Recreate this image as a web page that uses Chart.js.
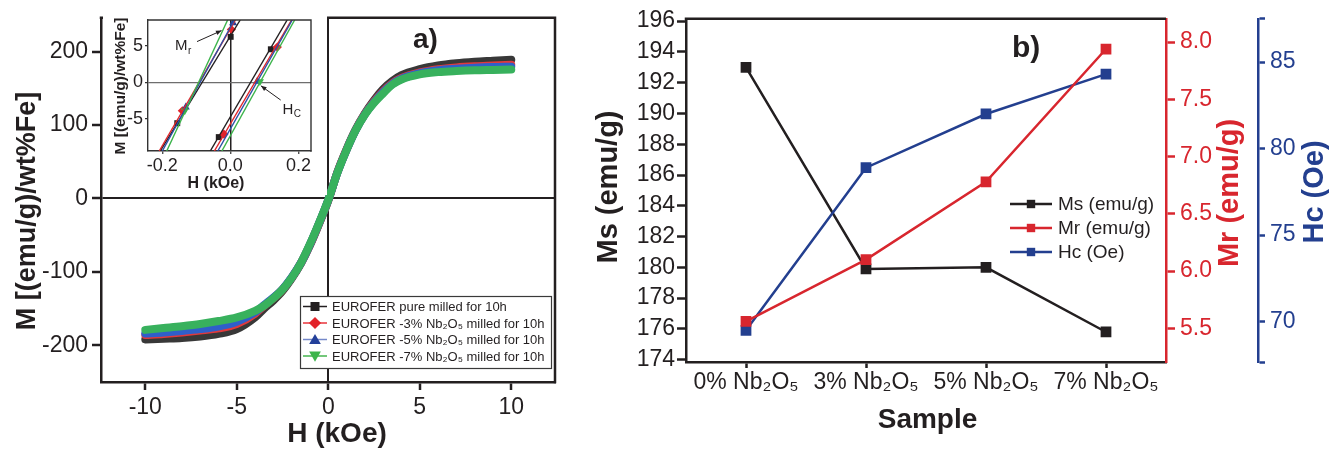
<!DOCTYPE html>
<html>
<head>
<meta charset="utf-8">
<script src="https://cdn.jsdelivr.net/npm/chart.js"></script>
<style>
  body { margin: 0; background: #fff; }
  #wrap { position: relative; width: 1341px; height: 450px; overflow: hidden; }
  canvas { position: absolute; top: 0; }
</style>
</head>
<body>
<div id="wrap">
  <canvas id="mh" width="570" height="450" style="left:0"></canvas>
  <canvas id="inset" width="224" height="195" style="left:103px"></canvas>
  <canvas id="props" width="761" height="450" style="left:580px"></canvas>
</div>
<script>
// ---- a) M(H) loops ----
const H_KOE = [-10, -9, -8, -7, -6, -5, -4, -3.5, -3, -2.5, -2, -1.5, -1, -0.5, 0,
               0.5, 1, 1.5, 2, 2.5, 3, 3.5, 4, 5, 6, 7, 8, 9, 10];
const M_PURE = [-192, -191, -190, -188, -184.5, -178, -162, -150, -139, -126, -109, -89, -64, -34.5, -3,
                36, 67, 94, 116, 134, 149, 160, 168, 176, 181, 184, 186, 187.5, 189];
const M_NB3 = [-186, -184.5, -182.5, -180, -177, -171, -157, -146, -136, -124, -108, -88, -63, -34, -2.5,
               35.5, 66.5, 93.5, 115, 132, 146, 157, 164, 171.5, 176, 178.5, 180, 181, 182];
const M_NB5 = [-184, -182.5, -180.5, -178, -174.5, -168, -155, -145, -135, -123.5, -107.5, -88, -62.5, -33.5, -2,
               35, 66, 93, 114.5, 131, 145, 156, 163, 170.5, 174.5, 176.5, 178, 179, 179.5];
const M_NB7 = [-179, -176.5, -174, -171, -167, -162, -153, -146, -136, -124, -108, -88, -62, -33, -2,
               35, 66, 93, 114, 130, 143, 155, 162, 169, 172, 173.5, 174.5, 175, 175.5];
const H_TICKS = [-10, -5, 0, 5, 10];
const M_TICKS = [-200, -100, 0, 100, 200];

// inset: both branches near the origin, [H (kOe), M] where they leave the frame
const IN_PURE_DOWN = [[-0.206, -9.4], [0.029, 8.5]];
const IN_PURE_UP   = [[-0.059, -9.4], [0.167, 8.5]];
const IN_NB3_DOWN  = [[-0.209, -9.4], [0.015, 8.5]];
const IN_NB3_UP    = [[-0.047, -9.4], [0.180, 8.5]];
const IN_NB5_DOWN  = [[-0.200, -9.4], [0.012, 8.5]];
const IN_NB5_UP    = [[-0.037, -9.4], [0.182, 8.5]];
const IN_NB7_DOWN  = [[-0.187, -9.4], [-0.008, 8.5]];
const IN_NB7_UP    = [[-0.025, -9.4], [0.189, 8.5]];
// measured points shown with markers in the inset
const MK_PURE = [[-0.156, -5.6], [0.001, 6.2], [-0.034, -7.5], [0.119, 4.5]];
const MK_NB3  = [[-0.141, -3.9], [0.003, 7.2], [-0.019, -7.1], [0.138, 4.8]];
const MK_NB5  = [[-0.131, -3.4], [0.008, 8.1], [0.079, 0.1]];
const MK_NB7  = [[-0.134, -3.9], [0.087, 0.1]];
const IN_H_TICKS = [-0.2, 0, 0.2];
const IN_M_TICKS = [-5, 0, 5];

// ---- b) magnetic properties vs Nb2O5 content ----
const SAMPLES = ['0% Nb₂O₅', '3% Nb₂O₅', '5% Nb₂O₅', '7% Nb₂O₅'];
const MS = [193.0, 179.9, 180.0, 175.8];
const MR = [5.56, 6.10, 6.78, 7.94];
const HC = [69.5, 78.9, 82.0, 84.3];

const INK = '#231f20';
const RED = '#d8262e';
const BLUE = '#233f8f';
const FONT = "'Liberation Sans', Arial, Helvetica, sans-serif";
Chart.defaults.font.family = FONT;
Chart.defaults.color = INK;

const xy = (xs, ys) => xs.map((x, i) => ({x: x, y: ys[i]}));
const pairs = a => a.map(p => ({x: p[0], y: p[1]}));
const fixTicks = vals => s => { s.ticks = vals.map(v => ({value: v})); };
const zeroOnly = (col, w) => ({
  color: c => (c.tick && Math.abs(c.tick.value) < 1e-9) ? col : 'rgba(0,0,0,0)',
  lineWidth: w
});

function drawMark(ctx, shape, x, y, r, fill) {
  ctx.save();
  ctx.fillStyle = fill;
  ctx.beginPath();
  if (shape === 'rect') {
    ctx.rect(x - r, y - r, 2 * r, 2 * r);
  } else if (shape === 'rectRot') {
    ctx.moveTo(x, y - r * 1.35); ctx.lineTo(x + r * 1.35, y);
    ctx.lineTo(x, y + r * 1.35); ctx.lineTo(x - r * 1.35, y); ctx.closePath();
  } else if (shape === 'triangle') {
    ctx.moveTo(x, y - r * 1.25); ctx.lineTo(x + r * 1.3, y + r); ctx.lineTo(x - r * 1.3, y + r); ctx.closePath();
  } else {
    ctx.moveTo(x, y + r * 1.25); ctx.lineTo(x + r * 1.3, y - r); ctx.lineTo(x - r * 1.3, y - r); ctx.closePath();
  }
  ctx.fill();
  ctx.restore();
}

// top / right edges of the plot frame
const frame = {
  id: 'frame',
  afterDraw(chart, args, o) {
    const {ctx, chartArea: a} = chart;
    ctx.save();
    ctx.strokeStyle = o.color || INK;
    ctx.lineWidth = o.width || 2.5;
    ctx.beginPath();
    ctx.moveTo(a.left - ctx.lineWidth / 2, a.top);
    ctx.lineTo(a.right, a.top);
    if (o.right) ctx.lineTo(a.right, a.bottom + ctx.lineWidth / 2);
    ctx.stroke();
    ctx.restore();
  }
};

// free texts (axis titles, panel letters)
const texts = {
  id: 'texts',
  afterDraw(chart, args, o) {
    const ctx = chart.ctx;
    (o.items || []).forEach(t => {
      ctx.save();
      ctx.font = t.font;
      ctx.fillStyle = t.color || INK;
      ctx.textAlign = t.align || 'center';
      ctx.textBaseline = 'alphabetic';
      ctx.translate(t.x, t.y);
      if (t.rot) ctx.rotate(-Math.PI / 2);
      ctx.fillText(t.text, 0, 0);
      ctx.restore();
    });
  }
};

// legend drawn from the datasets
const dsLegend = {
  id: 'dsLegend',
  afterDraw(chart, args, o) {
    const ctx = chart.ctx;
    ctx.save();
    if (o.box) {
      ctx.fillStyle = '#fff';
      ctx.fillRect(o.box[0], o.box[1], o.box[2], o.box[3]);
      ctx.strokeStyle = '#3a3a3a';
      ctx.lineWidth = 1.2;
      ctx.strokeRect(o.box[0] + 0.5, o.box[1] + 0.5, o.box[2], o.box[3]);
    }
    chart.data.datasets.forEach((ds, i) => {
      if (!ds.legendShape) return;
      const y = o.y0 + i * o.dy;
      ctx.strokeStyle = ds.legendLine;
      ctx.lineWidth = o.lineW;
      ctx.beginPath(); ctx.moveTo(o.x0, y); ctx.lineTo(o.x1, y); ctx.stroke();
      drawMark(ctx, ds.legendShape, (o.x0 + o.x1) / 2, y, o.r, ds.legendFill);
      ctx.fillStyle = INK;
      ctx.font = o.font;
      ctx.textAlign = 'left';
      ctx.textBaseline = 'middle';
      ctx.fillText(ds.label, o.tx, y + 1);
    });
    ctx.restore();
  }
};

// ---------- panel a ----------
const curve = (label, ys, col, order, lLine, lFill, shape) => ({
  label: label, data: xy(H_KOE, ys), borderColor: col, borderWidth: 8, order: order,
  pointRadius: 0, cubicInterpolationMode: 'monotone', borderCapStyle: 'round', borderJoinStyle: 'round',
  legendLine: lLine, legendFill: lFill, legendShape: shape
});

new Chart(document.getElementById('mh'), {
  type: 'line',
  data: {
    datasets: [
      curve('EUROFER pure milled for 10h', M_PURE, '#383838', 3, INK, INK, 'rect'),
      curve('EUROFER -3% Nb₂O₅ milled for 10h', M_NB3, '#e0393c', 2, '#e8353b', '#e2232a', 'rectRot'),
      curve('EUROFER -5% Nb₂O₅ milled for 10h', M_NB5, '#2f5fc9', 1, '#7488c9', '#23409a', 'triangle'),
      curve('EUROFER -7% Nb₂O₅ milled for 10h', M_NB7, '#38b15d', 0, '#45b54e', '#3cb44b', 'triangleDown')
    ]
  },
  options: {
    responsive: false, animation: false,
    layout: {padding: {left: 0, top: 14, right: 15, bottom: 0}},
    plugins: {
      legend: {display: false}, tooltip: {enabled: false},
      frame: {right: true},
      dsLegend: {box: [300, 296, 251, 72], y0: 306.5, dy: 16.5, x0: 303, x1: 327, r: 4.5,
                 lineW: 1.5, tx: 332, font: '13px ' + FONT},
      texts: {items: [
        {text: 'M [(emu/g)/wt%Fe]', x: 35, y: 211, rot: true, font: 'bold 27px ' + FONT},
        {text: 'H (kOe)', x: 337, y: 442, font: 'bold 28px ' + FONT},
        {text: 'a)', x: 413, y: 48, align: 'left', font: 'bold 28px ' + FONT}
      ]}
    },
    scales: {
      x: {
        type: 'linear', min: -12.42, max: 12.39,
        afterBuildTicks: fixTicks(H_TICKS),
        ticks: {padding: 4, font: {size: 23}},
        grid: Object.assign(zeroOnly(INK, 2), {tickColor: INK, tickLength: 8, tickWidth: 2.5}),
        border: {color: INK, width: 2.5},
        afterFit: s => { s.height = 68; }
      },
      y: {
        min: -250, max: 246,
        afterBuildTicks: fixTicks(M_TICKS),
        ticks: {padding: 4, font: {size: 23}},
        grid: Object.assign(zeroOnly(INK, 2), {tickColor: INK, tickLength: 9, tickWidth: 2.5}),
        border: {color: INK, width: 2.5},
        afterFit: s => { s.width = 101; }
      }
    }
  },
  plugins: [frame, dsLegend, texts]
});

// ---------- inset ----------
const seg = (pts, col) => ({data: pairs(pts), borderColor: col, borderWidth: 1.4, pointRadius: 0});
const marks = (pts, col, style, rot) => ({
  data: pairs(pts), showLine: false, pointStyle: style, pointRotation: rot || 0,
  pointRadius: style === 'rect' ? 4.2 : 4.6, backgroundColor: col, borderColor: col, borderWidth: 0
});

const notes = {
  id: 'notes',
  beforeDraw(chart) {
    const ctx = chart.ctx;
    ctx.save();
    ctx.fillStyle = '#fff';
    ctx.fillRect(0, 16, chart.width, chart.height - 16);
    ctx.restore();
  },
  afterDraw(chart, args, o) {
    const {ctx, scales: {x, y}} = chart;
    ctx.save();
    ctx.strokeStyle = INK; ctx.fillStyle = INK; ctx.lineWidth = 1;
    (o.arrows || []).forEach(a => {
      const x0 = x.getPixelForValue(a[0]), y0 = y.getPixelForValue(a[1]);
      const x1 = x.getPixelForValue(a[2]), y1 = y.getPixelForValue(a[3]);
      const ang = Math.atan2(y1 - y0, x1 - x0);
      ctx.beginPath(); ctx.moveTo(x0, y0); ctx.lineTo(x1, y1); ctx.stroke();
      ctx.beginPath();
      ctx.moveTo(x1, y1);
      ctx.lineTo(x1 - 6 * Math.cos(ang - 0.4), y1 - 6 * Math.sin(ang - 0.4));
      ctx.lineTo(x1 - 6 * Math.cos(ang + 0.4), y1 - 6 * Math.sin(ang + 0.4));
      ctx.closePath(); ctx.fill();
    });
    ctx.textAlign = 'left'; ctx.textBaseline = 'alphabetic';
    (o.labels || []).forEach(l => {
      const px = x.getPixelForValue(l.x), py = y.getPixelForValue(l.y);
      ctx.font = '15px ' + FONT;
      ctx.fillText(l.main, px, py);
      const w = ctx.measureText(l.main).width;
      ctx.font = '10px ' + FONT;
      ctx.fillText(l.sub, px + w + 0.5, py + 3.5);
    });
    ctx.restore();
  }
};

new Chart(document.getElementById('inset'), {
  type: 'line',
  data: {
    datasets: [
      seg(IN_NB7_DOWN, '#3cb44b'), seg(IN_NB7_UP, '#3cb44b'),
      seg(IN_NB5_DOWN, '#2d4fa6'), seg(IN_NB5_UP, '#2d4fa6'),
      seg(IN_NB3_DOWN, '#e0262b'), seg(IN_NB3_UP, '#e0262b'),
      seg(IN_PURE_DOWN, INK), seg(IN_PURE_UP, INK),
      marks(MK_NB7, '#3cb44b', 'triangle', 180),
      marks(MK_NB5, '#23409a', 'triangle'),
      marks(MK_NB3, '#e2232a', 'rectRot'),
      marks(MK_PURE, INK, 'rect')
    ]
  },
  options: {
    responsive: false, animation: false,
    layout: {padding: {left: 0, top: 20, right: 16, bottom: 0}},
    plugins: {
      legend: {display: false}, tooltip: {enabled: false},
      frame: {right: true, width: 1.4, color: '#333'},
      notes: {
        arrows: [[-0.098, 5.55, -0.026, 7.05], [0.148, -2.44, 0.090, -0.5]],
        labels: [{main: 'M', sub: 'r', x: -0.163, y: 4.4}, {main: 'H', sub: 'C', x: 0.153, y: -4.3}]
      },
      texts: {items: [
        {text: 'M [(emu/g)/wt%Fe]', x: 22, y: 86, rot: true, font: 'bold 15.5px ' + FONT},
        {text: 'H (kOe)', x: 113, y: 188, font: 'bold 16px ' + FONT}
      ]}
    },
    scales: {
      x: {
        type: 'linear', min: -0.242, max: 0.237,
        afterBuildTicks: fixTicks(IN_H_TICKS),
        ticks: {padding: 1, font: {size: 18}, callback: v => v.toFixed(1)},
        grid: Object.assign(zeroOnly(INK, 1.5), {tickColor: '#333', tickLength: 3, tickWidth: 1.2}),
        border: {color: '#333', width: 1.4},
        afterFit: s => { s.height = 44; }
      },
      y: {
        min: -9.4, max: 8.5,
        afterBuildTicks: fixTicks(IN_M_TICKS),
        ticks: {padding: 2, font: {size: 18}},
        grid: Object.assign(zeroOnly('#6e6e6e', 1.2), {tickColor: '#333', tickLength: 3, tickWidth: 1.2}),
        border: {color: '#333', width: 1.4},
        afterFit: s => { s.width = 45; }
      }
    }
  },
  plugins: [notes, frame, texts]
});

// ---------- panel b ----------
const prop = (label, data, axis, col, order) => ({
  label: label, data: data, yAxisID: axis, borderColor: col, backgroundColor: col,
  borderWidth: 2.5, pointStyle: 'rect', pointRadius: 7.6, pointBorderWidth: 0, order: order,
  legendLine: col, legendFill: col, legendShape: 'rect'
});

new Chart(document.getElementById('props'), {
  type: 'line',
  data: {
    labels: SAMPLES,
    datasets: [
      prop('Ms (emu/g)', MS, 'ms', INK, 2),
      prop('Mr (emu/g)', MR, 'mr', RED, 0),
      prop('Hc (Oe)', HC, 'hc', BLUE, 1)
    ]
  },
  options: {
    responsive: false, animation: false,
    layout: {padding: {left: 0, top: 18, right: 0, bottom: 0}},
    plugins: {
      legend: {display: false}, tooltip: {enabled: false},
      frame: {right: false},
      dsLegend: {y0: 204, dy: 24, x0: 430, x1: 472, r: 4.2, lineW: 2.5, tx: 478, font: '19px ' + FONT},
      texts: {items: [
        {text: 'Ms (emu/g)', x: 37, y: 187, rot: true, font: 'bold 29px ' + FONT},
        {text: 'Mr (emu/g)', x: 658, y: 193, rot: true, color: RED, font: 'bold 29px ' + FONT},
        {text: 'Hc (Oe)', x: 743, y: 192, rot: true, color: BLUE, font: 'bold 29px ' + FONT},
        {text: 'Sample', x: 347.5, y: 428, font: 'bold 28px ' + FONT},
        {text: 'b)', x: 432, y: 57, align: 'left', font: 'bold 30px ' + FONT}
      ]}
    },
    scales: {
      x: {
        type: 'category', offset: true,
        ticks: {padding: 1, autoSkip: false, maxRotation: 0, font: {size: 23}},
        grid: {drawOnChartArea: false, offset: false, tickColor: INK, tickLength: 6, tickWidth: 2.5},
        border: {color: INK, width: 2.5},
        afterFit: s => { s.height = 88; }
      },
      ms: {
        position: 'left', min: 173.85, max: 196.15,
        ticks: {stepSize: 2, includeBounds: false, padding: 2, font: {size: 23}},
        grid: {drawOnChartArea: false, tickColor: INK, tickLength: 9, tickWidth: 2.5},
        border: {color: INK, width: 2.5},
        afterFit: s => { s.width = 106; }
      },
      mr: {
        position: 'right', weight: 0, min: 5.206, max: 8.204,
        ticks: {stepSize: 0.5, includeBounds: false, padding: 5, color: RED, font: {size: 23},
                callback: v => v.toFixed(1)},
        grid: {drawOnChartArea: false, tickColor: RED, tickLength: 9, tickWidth: 2.5},
        border: {color: RED, width: 2.5},
        afterFit: s => { s.width = 92; }
      },
      hc: {
        position: 'right', weight: 1, min: 67.67, max: 87.5,
        ticks: {stepSize: 5, includeBounds: true, padding: 5, color: BLUE, font: {size: 23},
                callback: v => (Math.abs(v - Math.round(v)) < 1e-6 && Math.round(v) % 5 === 0) ? v : ''},
        grid: {drawOnChartArea: false, tickColor: BLUE, tickLength: 7, tickWidth: 2.5},
        border: {color: BLUE, width: 2.5},
        afterFit: s => { s.width = 83; }
      }
    }
  },
  plugins: [frame, dsLegend, texts]
});
</script>
</body>
</html>
